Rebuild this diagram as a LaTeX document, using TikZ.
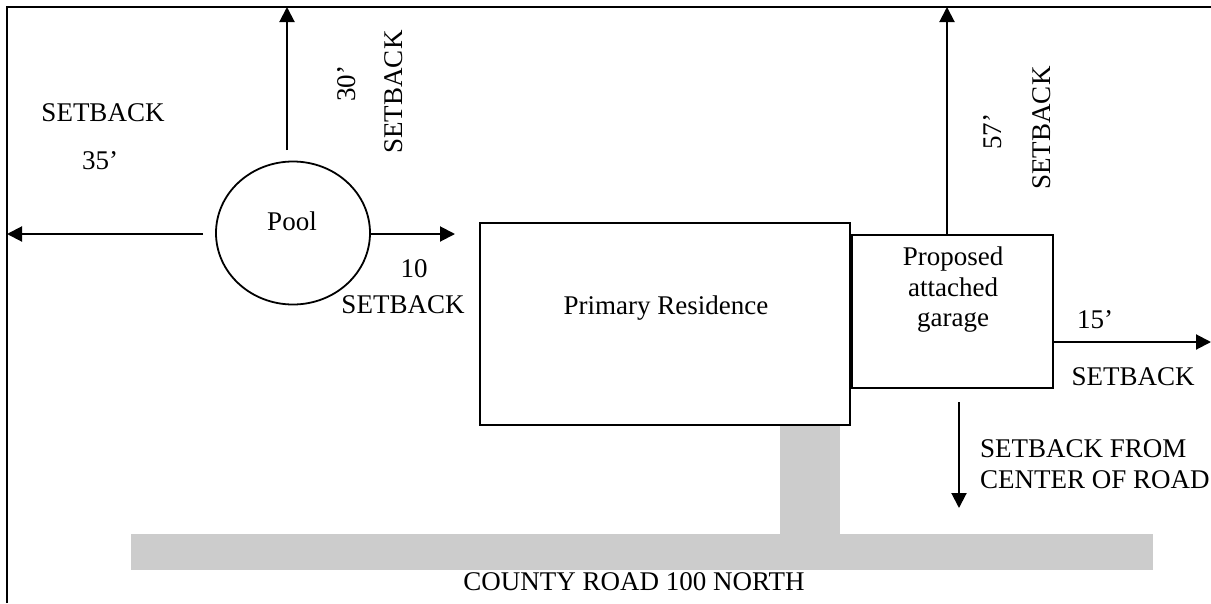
\documentclass[tikz,border=0pt]{standalone}
\usepackage{fontspec}
\setmainfont{Liberation Serif}
\usetikzlibrary{arrows.meta,shapes.geometric}
\begin{document}
\begin{tikzpicture}[x=1pt,y=-1pt,line width=2pt,
  arr/.style={-{Triangle[length=15pt,width=15pt]},line width=2pt},
  txt/.style={font=\fontsize{27}{31}\selectfont,inner sep=0pt},
  bx/.style={draw,line width=2.2pt,inner sep=0pt}]
\useasboundingbox (0,0) rectangle (1211,603);
% lot border (left and top)
\coordinate (blb) at (7,603);
\coordinate (btl) at (7,7);
\coordinate (btr) at (1211,7);
\draw[line width=2.5pt] (blb) -- (btl) -- (btr);
% road and driveway
\fill[black!20] (131,534) rectangle (1153,570);
\fill[black!20] (780,425) rectangle (840,535);
% buildings
\node[draw,ellipse,minimum width=154pt,minimum height=143pt,line width=1.8pt] (pool) at (293,233) {};
\node[bx,minimum width=370pt,minimum height=202pt] (res) at (665,324) {};
\node[bx,minimum width=201pt,minimum height=153pt] (gar) at (952.5,311.5) {};
% building texts
\node[txt,anchor=base] (pooltxt) at (292,230) {Pool};
\node[txt,anchor=base] (restxt) at (666,314) {Primary Residence};
\node[txt,align=center,font=\fontsize{27}{30.5}\selectfont] (gartxt) at (953,290) {Proposed\\attached\\garage};
% pool setbacks
\coordinate (pup) at (287,150);
\coordinate (pupend) at (287,7);
\draw[arr] (pup) -- (pupend);
\coordinate (pleft) at (203,234);
\coordinate (pleftend) at (7,234);
\draw[arr] (pleft) -- (pleftend);
\coordinate (prightend) at (455,234);
\draw[arr] (pool.east |- prightend) -- (prightend);
% garage setbacks
\coordinate (gupend) at (947,7);
\draw[arr] (gar.north -| gupend) -- (gupend);
\coordinate (grightend) at (1211,342);
\draw[arr] (gar.east |- grightend) -- (grightend);
\coordinate (gdown) at (959,402);
\coordinate (gdownend) at (959,508);
\draw[arr] (gdown) -- (gdownend);
% labels
\node[txt] (sb1) at (103,113) {SETBACK};
\node[txt] (d35) at (100,161) {35’};
\node[txt,rotate=90] (d30) at (347,84) {30’};
\node[txt,rotate=90] (sb2) at (394,92) {SETBACK};
\node[txt] (d10) at (414,269) {10};
\node[txt] (sb3) at (403,305) {SETBACK};
\node[txt,rotate=90] (d57) at (993,132) {57’};
\node[txt,rotate=90] (sb4) at (1042,128) {SETBACK};
\node[txt] (d15) at (1095,320) {15’};
\node[txt] (sb5) at (1133,377) {SETBACK};
\node[txt,align=left,anchor=west] (sbroad) at (979,464.5) {SETBACK FROM\\CENTER OF ROAD};
\node[txt] (road) at (634,582) {COUNTY ROAD 100 NORTH};
\end{tikzpicture}
\end{document}
